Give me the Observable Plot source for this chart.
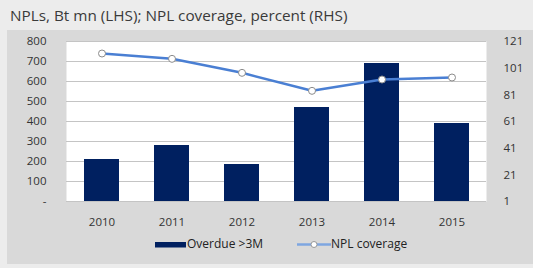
<!DOCTYPE html>
<html>
<head>
<meta charset="utf-8">
<script src="https://cdn.jsdelivr.net/npm/d3@7"></script>
<script src="https://cdn.jsdelivr.net/npm/@observablehq/plot@0.6"></script>
<style>
  html, body { margin: 0; padding: 0; background: #ececec; }
  body { width: 533px; height: 268px; position: relative; overflow: hidden; font-family: "Open Sans", "Noto Sans", sans-serif; color: #333; }
  #title { position: absolute; left: 10px; top: 5px; font-size: 15.3px; color: #3a3a3a; white-space: nowrap; }
  #panel { position: absolute; left: 7px; top: 30px; width: 526px; height: 234px; background: #d9d9d9; }
  #chart { position: absolute; left: 0; top: 0; }
  #legend { position: absolute; top: 235px; left: 0; font-size: 12px; color: #222; }
  .item { position: absolute; white-space: nowrap; display: flex; align-items: center; }
</style>
</head>
<body>
<div id="title">NPLs, Bt mn (LHS); NPL coverage, percent (RHS)</div>
<div id="panel"></div>
<div id="chart"></div>
<div id="legend">
  <div class="item" style="left:155px;top:0px;">
    <svg width="31" height="16"><rect x="0" y="6" width="31" height="5.5" fill="#002060"></rect></svg>
    <span style="margin-left:1px;">Overdue &gt;3M</span>
  </div>
  <div class="item" style="left:297px;top:0px;">
    <svg width="34" height="16"><line x1="0" y1="8.5" x2="34" y2="8.5" stroke="#7ea6e0" stroke-width="2.5"></line><circle cx="17" cy="8.5" r="3" fill="white" stroke="#999" stroke-width="1"></circle></svg>
    <span style="margin-left:0px;">NPL coverage</span>
  </div>
</div>
<script>
const years = ["2010", "2011", "2012", "2013", "2014", "2015"];
const overdue = [210, 280, 185, 470, 690, 390];
const coverage = [112, 108, 97.5, 84, 92.5, 94];
const leftTicks = [0, 100, 200, 300, 400, 500, 600, 700, 800];
const rightTicks = [1, 21, 41, 61, 81, 101, 121];

const toLeft = v => (v - 1) / 120 * 800;
const bars = years.map((y, i) => ({year: y, value: overdue[i]}));
const line = years.map((y, i) => ({year: y, value: toLeft(coverage[i])}));

const chart = Plot.plot({
  width: 533,
  height: 268,
  marginLeft: 66,
  marginRight: 47,
  marginTop: 41,
  marginBottom: 67,
  style: {background: "transparent", fontFamily: "'Open Sans', 'Noto Sans', sans-serif", fontSize: "11.5px", color: "#333"},
  x: {domain: years, paddingInner: 0.5, paddingOuter: 0.25, label: null},
  y: {domain: [0, 800], label: null},
  marks: [
    Plot.frame({fill: "white", stroke: null}),
    Plot.gridY(leftTicks, {stroke: "#c4c4c4", strokeOpacity: 1, strokeWidth: 1}),
    Plot.barY(bars, {x: "year", y: "value", fill: "#002060"}),
    Plot.line(line, {x: "year", y: "value", stroke: "#4a7fd3", strokeWidth: 2.5}),
    Plot.dot(line, {x: "year", y: "value", r: 3.5, fill: "white", stroke: "#8c8c8c", strokeWidth: 1}),
    Plot.axisY(leftTicks, {anchor: "left", tickSize: 0, tickPadding: 20, tickFormat: d => d === 0 ? "-" : String(d), fill: "#333"}),
    Plot.axisY(rightTicks.map(toLeft), {anchor: "right", tickSize: 0, tickPadding: 17, textAnchor: "start", tickFormat: d => String(Math.round(d * 120 / 800 + 1)), fill: "#333"}),
    Plot.axisX(years, {tickSize: 0, tickPadding: 16, fill: "#333"})
  ]
});
document.getElementById("chart").appendChild(chart);
</script>
</body>
</html>
